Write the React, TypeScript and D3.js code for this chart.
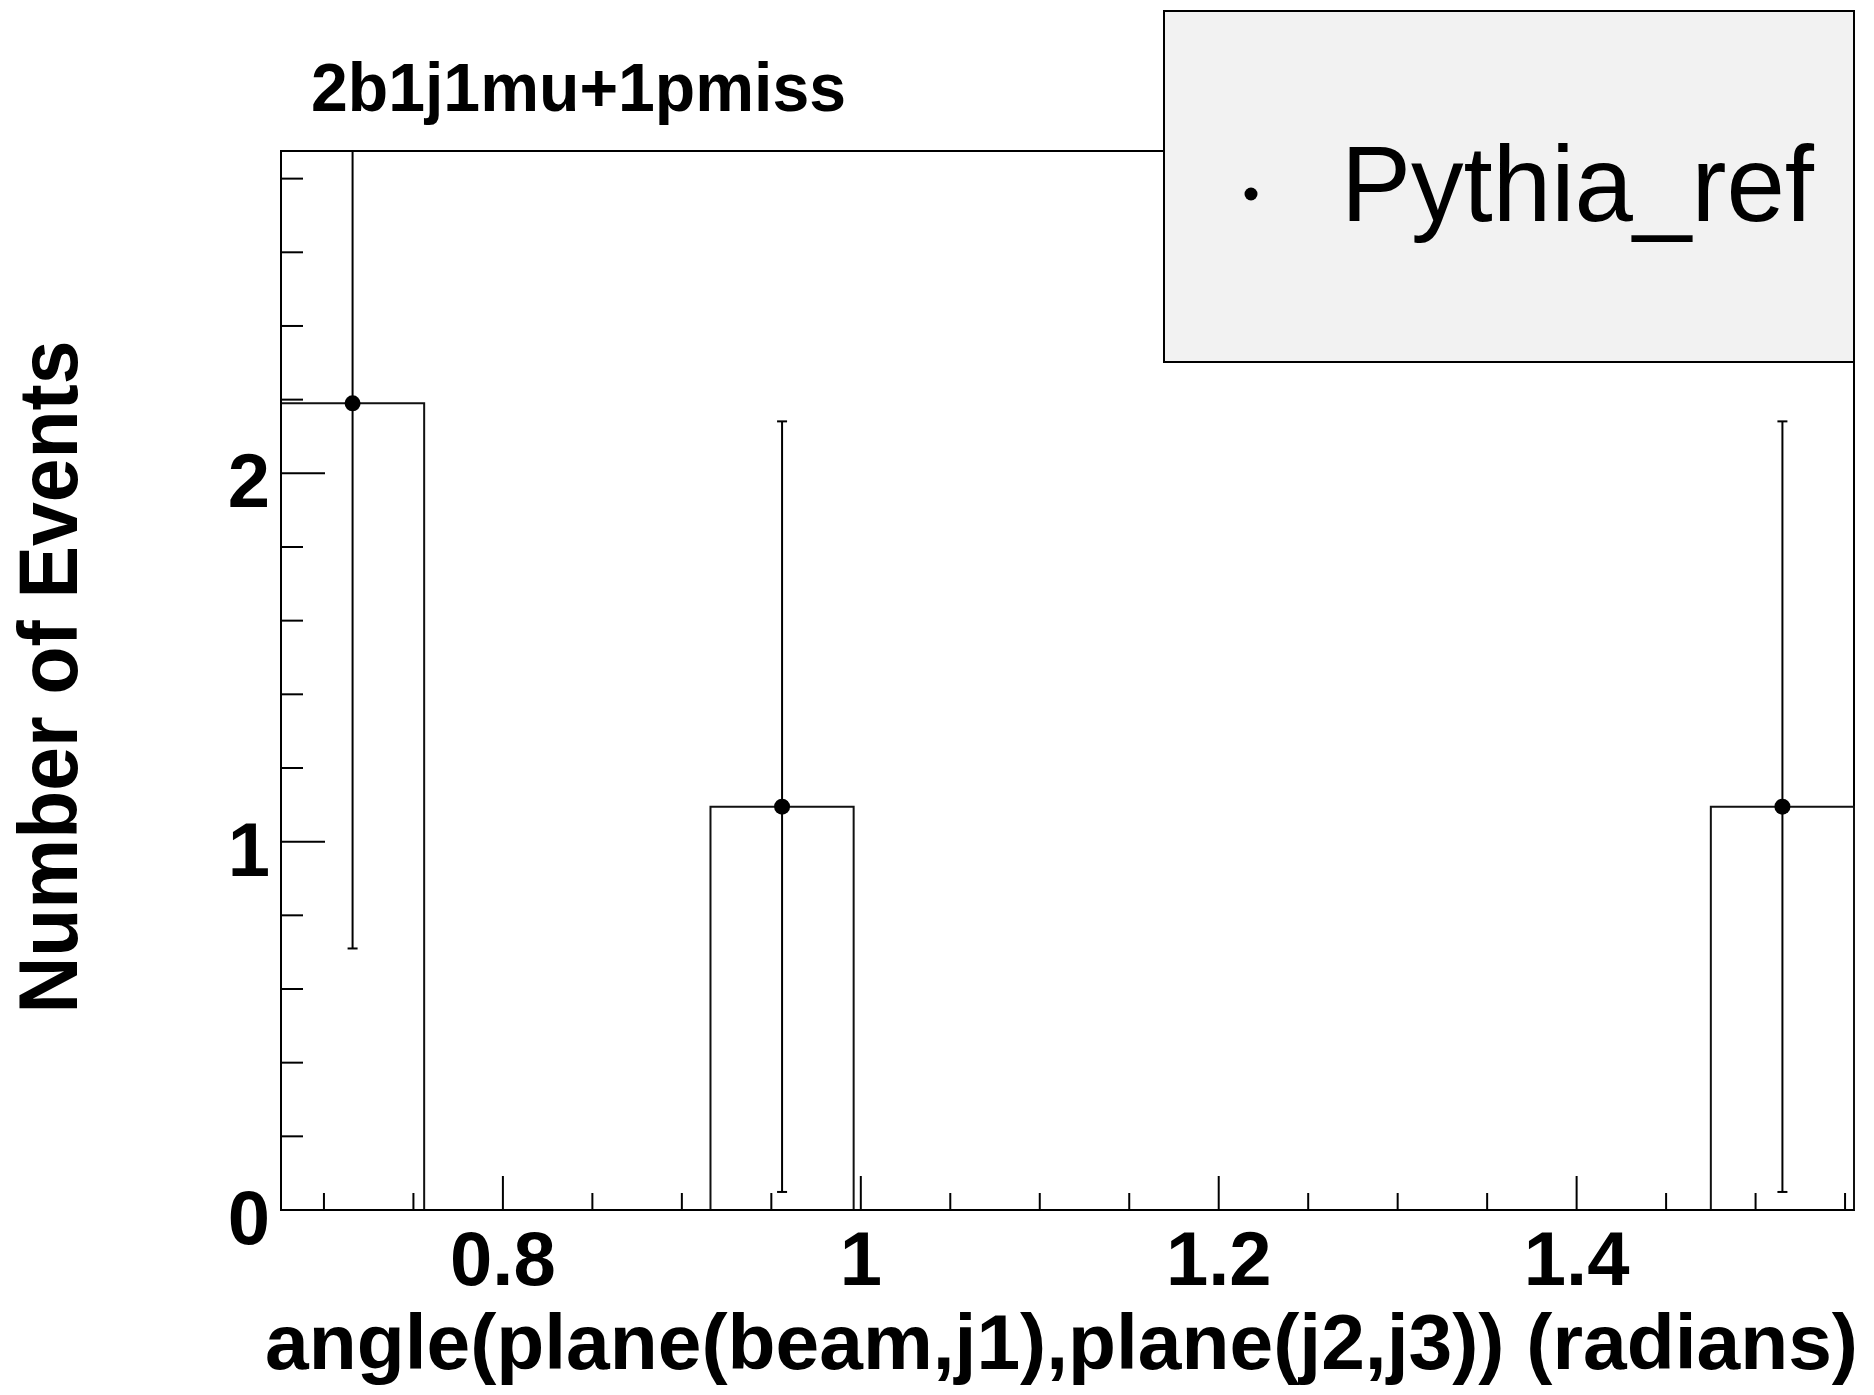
import React from "react";
import * as d3 from "d3";

// ---- data ----
const binLeft = [0.676, 0.916, 1.475];
const binRight = [0.756, 0.996, 1.555];
const binValues = [2.19, 1.095, 1.095];
const binErrors = [1.48, 1.046, 1.046];

const xMajorTicks = [0.8, 1.0, 1.2, 1.4];
const xTickLabels = ["0.8", "1", "1.2", "1.4"];
const yMajorTicks = [0, 1, 2];
const yTickLabels = ["0", "1", "2"];

const title = "2b1j1mu+1pmiss";
const xTitle = "angle(plane(beam,j1),plane(j2,j3)) (radians)";
const yTitle = "Number of Events";
const legendLabel = "Pythia_ref";

const X_DOMAIN = [0.676, 1.555];
const Y_DOMAIN = [0, 2.875];

const W = 1874;
const H = 1395;
const FL = 281, FR = 1854, FT = 151, FB = 1210;
const FONT = "'Liberation Sans', Arial, Helvetica, sans-serif";

export default function App() {
  const x = d3.scaleLinear().domain(X_DOMAIN).range([FL, FR]);
  const y = d3.scaleLinear().domain(Y_DOMAIN).range([FB, FT]);

  const xMinor = d3.range(0.7, 1.5501, 0.05).filter(
    (t) => !xMajorTicks.some((m) => Math.abs(m - t) < 1e-6)
  );
  const yMinor = d3.range(0.2, 2.8001, 0.2).filter(
    (t) => !yMajorTicks.some((m) => Math.abs(m - t) < 1e-6)
  );

  // step outline of histogram
  const pts: [number, number][] = [];
  pts.push([X_DOMAIN[0], 0]);
  binLeft.forEach((l, i) => {
    pts.push([l, 0]);
    pts.push([l, binValues[i]]);
    pts.push([binRight[i], binValues[i]]);
    pts.push([binRight[i], 0]);
  });
  pts.push([X_DOMAIN[1], 0]);
  const line = d3
    .line<[number, number]>()
    .x((d) => x(d[0]))
    .y((d) => y(d[1]));

  const clampY = (v: number) => Math.max(FT, Math.min(FB, y(v)));

  return (
    <svg
      width={W}
      height={H}
      style={{ position: "absolute", left: 0, top: 0, background: "#fff" }}
      fontFamily={FONT}
    >
      <rect x={0} y={0} width={W} height={H} fill="#fff" />
      {/* title */}
      <text x={311} y={111} fontSize={68} fontWeight="bold" textLength={535} lengthAdjust="spacingAndGlyphs">
        {title}
      </text>

      {/* frame */}
      <rect x={FL} y={FT} width={FR - FL} height={FB - FT} fill="none" stroke="#000" strokeWidth={2} />

      {/* histogram */}
      <path d={line(pts) || ""} fill="none" stroke="#111" strokeWidth={2} />

      {/* error bars and markers */}
      {binValues.map((v, i) => {
        const cx = x((binLeft[i] + binRight[i]) / 2);
        const y1 = clampY(v - binErrors[i]);
        const y2 = clampY(v + binErrors[i]);
        return (
          <g key={i} stroke="#000" strokeWidth={2}>
            <line x1={cx} x2={cx} y1={y1} y2={y2} />
            <line x1={cx - 5} x2={cx + 5} y1={y1} y2={y1} />
            <line x1={cx - 5} x2={cx + 5} y1={y2} y2={y2} />
            <circle cx={cx} cy={y(v)} r={8} fill="#000" stroke="none" />
          </g>
        );
      })}

      {/* x axis */}
      <line x1={FL} x2={FR} y1={FB} y2={FB} stroke="#000" strokeWidth={2} />
      {xMajorTicks.map((t) => (
        <line key={"xM" + t} x1={x(t)} x2={x(t)} y1={FB} y2={FB - 34} stroke="#000" strokeWidth={2} />
      ))}
      {xMinor.map((t) => (
        <line key={"xm" + t} x1={x(t)} x2={x(t)} y1={FB} y2={FB - 17} stroke="#000" strokeWidth={2} />
      ))}
      {xMajorTicks.map((t, i) => (
        <text key={"xl" + t} x={x(t)} y={1285} fontSize={76} fontWeight="bold" textAnchor="middle">
          {xTickLabels[i]}
        </text>
      ))}
      <text x={1858} y={1369} fontSize={78} fontWeight="bold" textAnchor="end" textLength={1593} lengthAdjust="spacingAndGlyphs">
        {xTitle}
      </text>

      {/* y axis */}
      <line x1={FL} x2={FL} y1={FT} y2={FB} stroke="#000" strokeWidth={2} />
      {yMajorTicks.map((t) => (
        <line key={"yM" + t} x1={FL} x2={FL + 44} y1={y(t)} y2={y(t)} stroke="#000" strokeWidth={2} />
      ))}
      {yMinor.map((t) => (
        <line key={"ym" + t} x1={FL} x2={FL + 22} y1={y(t)} y2={y(t)} stroke="#000" strokeWidth={2} />
      ))}
      {yMajorTicks.map((t, i) => (
        <text key={"yl" + t} x={270} y={y(t) + 34} fontSize={76} fontWeight="bold" textAnchor="end">
          {yTickLabels[i]}
        </text>
      ))}
      <text
        transform={`translate(77,677) rotate(-90)`}
        fontSize={84}
        fontWeight="bold"
        textAnchor="middle"
        textLength={673}
        lengthAdjust="spacingAndGlyphs"
      >
        {yTitle}
      </text>

      {/* legend */}
      <rect x={1164} y={11} width={FR - 1164} height={351} fill="#f2f2f2" stroke="#000" strokeWidth={2} />
      <circle cx={1251} cy={194} r={6.5} fill="#000" />
      <text x={1341} y={221} fontSize={108} textLength={473} lengthAdjust="spacingAndGlyphs">
        {legendLabel}
      </text>
    </svg>
  );
}
